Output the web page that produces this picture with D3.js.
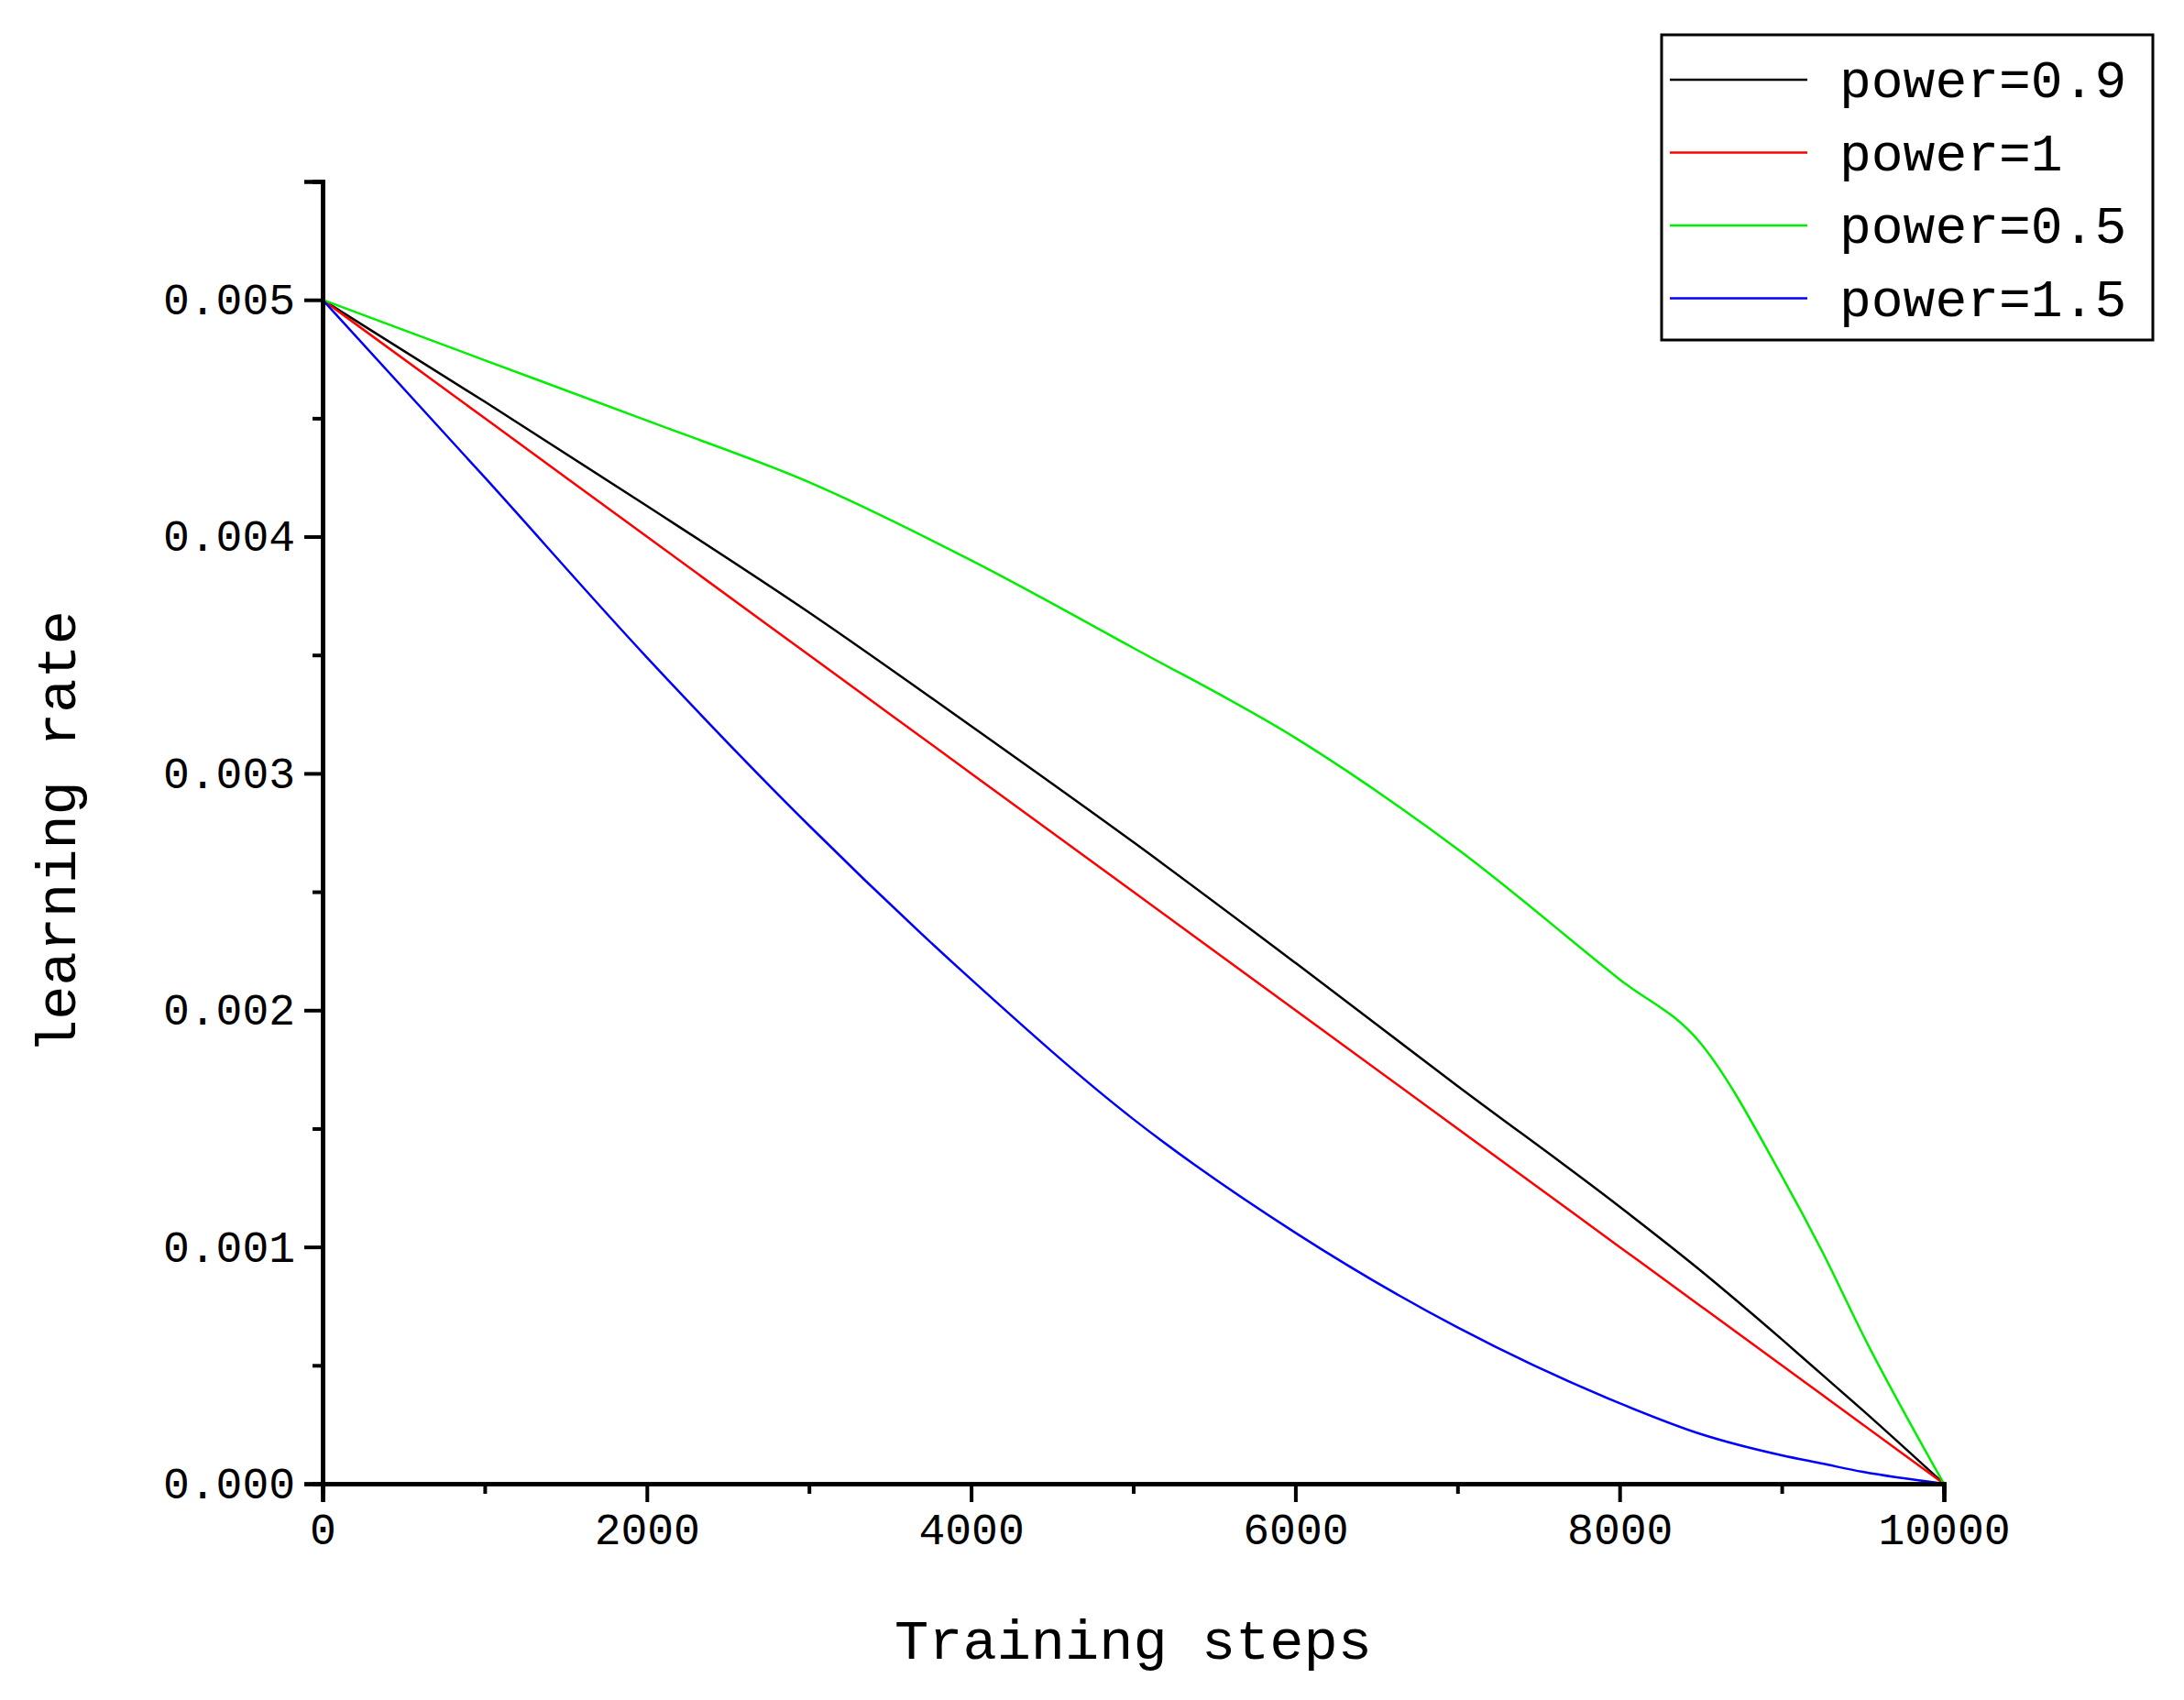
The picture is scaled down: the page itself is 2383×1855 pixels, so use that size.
<!DOCTYPE html>
<html><head><meta charset="utf-8">
<script src="https://cdn.jsdelivr.net/npm/d3@7"></script>
<style>body{margin:0;background:#fff}</style></head>
<body><svg id="c" width="2383" height="1855"></svg>
<script>
const steps=[0,1000,2000,3000,4000,5000,6000,7000,8000,8500,9000,9250,9500,10000];
const p09=[0.005,0.00457,0.00413,0.00368,0.00320,0.00271,0.00220,0.00168,0.00117,0.00090,0.00061,0.00046,0.00031,0];
const p1=[0.005,0.0045,0.004,0.0035,0.003,0.0025,0.002,0.0015,0.001,0.00075,0.0005,0.000375,0.00025,0];
const p05=[0.005,0.004745,0.00449,0.00423,0.0039,0.00353,0.00315,0.00268,0.00213,0.00186,0.0013,0.00098,0.00063,0];
const p15=[0.005,0.00425,0.00349,0.00278,0.00213,0.00154,0.00106,0.00066,0.00034,0.00021,0.00012,0.000085,0.00005,0];
const names=["power=0.9","power=1","power=0.5","power=1.5"];
const colors=["#000000","#ff0000","#00ee00","#0000ff"];
const series=[p09,p1,p05,p15];
const xTicks=[0,2000,4000,6000,8000,10000];
const xMinor=[1000,3000,5000,7000,9000];
const yTicks=[0,0.001,0.002,0.003,0.004,0.005];
const yMinor=[0.0005,0.0015,0.0025,0.0035,0.0045];

const svg=d3.select("#c");
const font="'Liberation Mono','DejaVu Sans Mono',monospace";
const x=d3.scaleLinear().domain([0,10000]).range([352,2121]);
const y=d3.scaleLinear().domain([0,0.0055]).range([1619,198]);

const line=d3.line().x((d,i)=>x(steps[i])).y(d=>y(d)).curve(d3.curveMonotoneX);
series.forEach((s,k)=>svg.append("path").attr("d",line(s)).attr("fill","none").attr("stroke",colors[k]).attr("stroke-width",2.5));

svg.append("g").attr("transform","translate(352,0)")
 .call(d3.axisLeft(y).tickValues(yTicks).tickFormat(d3.format(".3f")).tickSize(20).tickPadding(10));
svg.append("g").attr("transform","translate(352,0)")
 .call(d3.axisLeft(y).tickValues(yMinor).tickFormat("").tickSize(11));
svg.append("g").attr("transform","translate(0,1619)")
 .call(d3.axisBottom(x).tickValues(xTicks).tickFormat(d3.format("d")).tickSize(20).tickPadding(12));
svg.append("g").attr("transform","translate(0,1619)")
 .call(d3.axisBottom(x).tickValues(xMinor).tickFormat("").tickSize(11));
svg.selectAll(".domain").attr("stroke","#000").attr("stroke-width",4.5);
svg.selectAll(".tick line").attr("stroke","#000").attr("stroke-width",4);
svg.selectAll(".tick text").attr("font-family",font).attr("font-size",48).attr("fill","#000");

svg.append("text").attr("x",(352+2121)/2).attr("y",1810).attr("text-anchor","middle")
 .attr("font-family",font).attr("font-size",62).text("Training steps");
svg.append("text").attr("transform","translate(82,908) rotate(-90)").attr("text-anchor","middle")
 .attr("font-family",font).attr("font-size",62).text("learning rate");

svg.append("rect").attr("x",1813).attr("y",38).attr("width",536).attr("height",333).attr("fill","#fff").attr("stroke","#000").attr("stroke-width",3);
names.forEach((n,i)=>{
 const yy=87+i*79.5;
 svg.append("line").attr("x1",1822).attr("x2",1972).attr("y1",yy).attr("y2",yy).attr("stroke",colors[i]).attr("stroke-width",2.5);
 svg.append("text").attr("x",2007).attr("y",yy+19).attr("font-family",font).attr("font-size",58).text(n);
});
</script></body></html>
